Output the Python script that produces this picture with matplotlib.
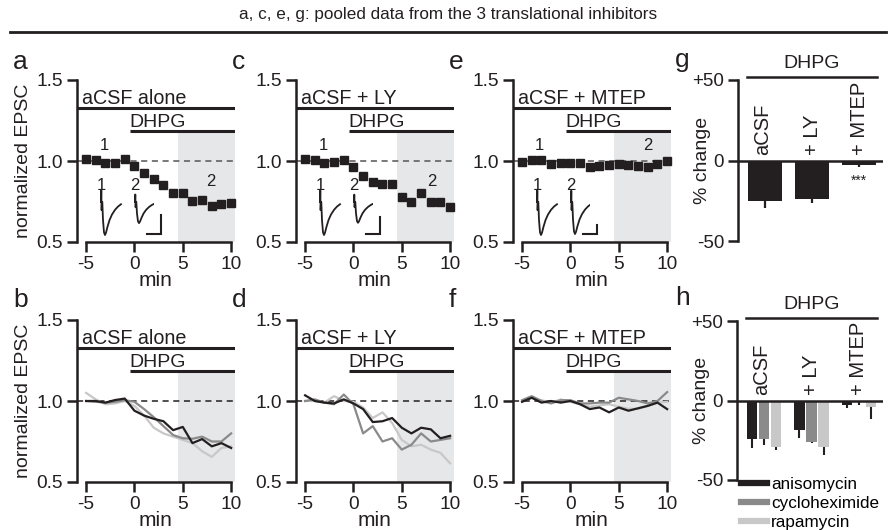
import matplotlib
matplotlib.use('Agg')
import matplotlib.pyplot as plt
from matplotlib.lines import Line2D

plt.rcParams['font.family'] = ['Liberation Sans', 'DejaVu Sans']
plt.rcParams['axes.unicode_minus'] = False

# ---------------- data ----------------
minutes = [-5, -4, -3, -2, -1, 0, 1, 2, 3, 4, 5, 6, 7, 8, 9, 10]

pooled_acsf = [1.014, 1.004, 0.99, 0.99, 1.01, 0.967, 0.924, 0.89, 0.85, 0.80,
               0.80, 0.753, 0.757, 0.724, 0.737, 0.74]
pooled_acsf_err = [0.012, 0.010, 0.010, 0.012, 0.012, 0.015, 0.018, 0.018, 0.02, 0.02,
                   0.02, 0.022, 0.022, 0.02, 0.02, 0.02]
pooled_ly = [1.014, 1.004, 0.99, 0.994, 1.008, 0.96, 0.907, 0.87, 0.86, 0.856,
             0.78, 0.747, 0.80, 0.747, 0.747, 0.716]
pooled_ly_err = [0.012, 0.010, 0.012, 0.012, 0.012, 0.018, 0.02, 0.02, 0.025, 0.025,
                 0.02, 0.025, 0.025, 0.02, 0.02, 0.025]
pooled_mtep = [0.994, 1.004, 1.008, 0.984, 0.99, 0.99, 0.99, 0.963, 0.97, 0.973,
               0.984, 0.973, 0.97, 0.963, 0.984, 1.0]
pooled_mtep_err = [0.01, 0.01, 0.01, 0.01, 0.01, 0.01, 0.012, 0.015, 0.015, 0.015,
                   0.015, 0.015, 0.015, 0.015, 0.015, 0.015]

b_aniso = [1.0, 1.0, 0.99, 1.006, 1.015, 0.94, 0.91, 0.89, 0.875, 0.82,
           0.84, 0.74, 0.765, 0.72, 0.74, 0.71]
b_cyclo = [1.0, 0.995, 0.99, 0.995, 1.005, 0.995, 0.95, 0.90, 0.845, 0.79,
           0.77, 0.767, 0.78, 0.75, 0.75, 0.80]
b_rapa = [1.05, 1.01, 0.98, 0.985, 1.0, 0.97, 0.91, 0.835, 0.80, 0.78,
          0.76, 0.74, 0.69, 0.655, 0.71, 0.72]

d_aniso = [1.035, 1.0, 0.99, 0.985, 1.01, 0.985, 0.95, 0.87, 0.875, 0.895,
           0.835, 0.80, 0.835, 0.825, 0.77, 0.785]
d_cyclo = [1.0, 1.01, 0.99, 0.98, 1.04, 0.98, 0.80, 0.845, 0.75, 0.77,
           0.70, 0.73, 0.80, 0.75, 0.76, 0.77]
d_rapa = [1.0, 1.0, 0.99, 1.03, 1.0, 0.995, 0.96, 0.895, 0.93, 0.865,
          0.76, 0.72, 0.73, 0.70, 0.68, 0.615]

f_aniso = [0.995, 1.02, 0.99, 1.0, 0.99, 1.0, 0.98, 0.95, 0.96, 0.93,
           0.96, 0.94, 0.955, 0.97, 0.99, 0.95]
f_cyclo = [1.005, 1.03, 1.0, 0.985, 1.005, 1.005, 0.985, 0.985, 0.99, 0.99,
           1.02, 1.01, 1.0, 0.985, 1.0, 1.055]
f_rapa = [1.0, 1.02, 1.005, 0.99, 1.01, 0.995, 0.98, 0.965, 0.973, 0.98,
          0.965, 0.952, 0.952, 0.97, 0.99, 0.995]

conditions = ['aCSF', '+ LY', '+ MTEP']
pooled_change = [-25.0, -24.0, -2.7]
pooled_change_err = [4.2, 2.3, 1.5]

drugs = ['anisomycin', 'cycloheximide', 'rapamycin']
aniso_change = [-24.0, -18.7, -2.6]
aniso_err = [5.8, 4.7, 2.3]
cyclo_change = [-24.0, -26.0, -1.1]
cyclo_err = [3.7, 0.6, 1.5]
rapa_change = [-29.4, -29.4, -4.3]
rapa_err = [1.9, 5.1, 7.4]

# example EPSC trace (normalized current, time in ms)
trace_t = [0, 0.3, 0.6, 1.0, 1.3, 2.0, 3.0, 4.0, 5.0, 6.5, 8.5, 11, 14, 17, 20]
trace_i = [0, 0.35, -0.25, 0.0, 0.0, -0.55, -0.92, -1.0, -0.93, -0.75, -0.55,
           -0.38, -0.24, -0.14, -0.07]
trace2_amp = {'a': 0.64, 'c': 0.63, 'e': 0.97}
scale_h = {'a': 0.58, 'c': 0.50, 'e': 0.28}

# ---------------- style ----------------
BLACK = '#231f20'
GRAY = '#8a8a8a'
LIGHT = '#c8c8c8'
SHADE = '#e6e7e8'
W, H = 896, 530
XL = (-5.94, 10.4)

fig = plt.figure(figsize=(W / 100, H / 100), dpi=100)


def box(x0, y0, x1, y1):
    return [x0 / W, 1 - y1 / H, (x1 - x0) / W, (y1 - y0) / H]


def style_axes(ax):
    for s in ['top', 'right']:
        ax.spines[s].set_visible(False)
    for s in ['left', 'bottom']:
        ax.spines[s].set_linewidth(1.8)
        ax.spines[s].set_color(BLACK)
    ax.tick_params(direction='out', length=7, width=1.8, labelsize=13.8,
                   pad=3, color=BLACK, labelcolor=BLACK)


def timecourse(ax, title, ylabel):
    ax.set_xlim(*XL)
    ax.set_ylim(0.5, 1.5)
    style_axes(ax)
    ax.spines['left'].set_bounds(0.5, 1.5)
    ax.spines['bottom'].set_bounds(-5, 10)
    ax.set_xticks([-5, 0, 5, 10])
    ax.set_xticklabels(['-5', '0', '5', '10'])
    ax.set_yticks([0.5, 1.0, 1.5])
    ax.set_yticklabels(['0.5', '1.0', '1.5'])
    ax.axvspan(4.5, XL[1], ymin=0, ymax=0.67, color=SHADE, lw=0, zorder=0)
    ax.axhline(1.327, color=BLACK, lw=2.2)
    ax.plot([-0.5, XL[1]], [1.185, 1.185], color=BLACK, lw=2.2, solid_capstyle='butt')
    ax.text(-5.45, 1.352, title, fontsize=14.2, ha='left', va='baseline', color=BLACK)
    ax.text(-0.55, 1.208, 'DHPG', fontsize=14, ha='left', va='baseline', color=BLACK)
    ax.text((2.2 - XL[0]) / (XL[1] - XL[0]), -0.235, 'min', fontsize=15,
            ha='center', va='center', transform=ax.transAxes, color=BLACK)
    if ylabel:
        ax.set_ylabel('normalized EPSC', fontsize=14, labelpad=3, color=BLACK)


def inset_traces(ax_parent_left, top_y, key):
    ins = fig.add_axes(box(ax_parent_left + 11, top_y + 110, ax_parent_left + 77, top_y + 158))
    ins.set_xlim(0, 66)
    ins.set_ylim(-1.09, 0.36)
    ins.axis('off')
    ins.plot([t + 13 for t in trace_t], trace_i, color=BLACK, lw=1.3)
    ins.plot([t + 47 for t in trace_t], [v * trace2_amp[key] for v in trace_i],
             color=BLACK, lw=1.3)
    ins.text(13, 0.27, '1', fontsize=12, ha='center', va='bottom', color=BLACK)
    ins.text(47, 0.27, '2', fontsize=12, ha='center', va='bottom', color=BLACK)
    yb = -0.97
    ins.plot([59, 73, 73], [yb, yb, yb + scale_h[key]], color=BLACK, lw=1.5,
             clip_on=False, solid_joinstyle='miter')


# ---------------- top row ----------------
top_specs = [('a', 77, 'aCSF alone', pooled_acsf, pooled_acsf_err, True, (-3.1, 1.05), (7.9, 0.83)),
             ('c', 296, 'aCSF + LY', pooled_ly, pooled_ly_err, False, (-3.1, 1.05), (8.1, 0.83)),
             ('e', 513, 'aCSF + MTEP', pooled_mtep, pooled_mtep_err, False, (-3.2, 1.05), (8.0, 1.05))]
for key, left, title, vals, errs, ylab, p1, p2 in top_specs:
    ax = fig.add_axes(box(left, 80, left + 158, 242))
    timecourse(ax, title, ylab)
    ax.hlines(1.0, -5.9, XL[1], colors='#555555', linestyles=(0, (4, 3)), lw=1.1, zorder=1)
    ax.errorbar(minutes, vals, yerr=errs, fmt='s', ms=6.2, color=BLACK, ecolor=BLACK,
                elinewidth=1.5, capsize=0, zorder=3, clip_on=False)
    ax.text(p1[0], p1[1], '1', fontsize=12, ha='center', va='bottom', color=BLACK)
    ax.text(p2[0], p2[1], '2', fontsize=12, ha='center', va='bottom', color=BLACK)
    inset_traces(left, 80, key)
    fig.text((left - 64) / W, 1 - 62 / H, key, fontsize=19, ha='left', va='center', color=BLACK)

# ---------------- bottom row ----------------
bot_specs = [('b', 77, 'aCSF alone', (b_aniso, b_cyclo, b_rapa), True),
             ('d', 296, 'aCSF + LY', (d_aniso, d_cyclo, d_rapa), False),
             ('f', 513, 'aCSF + MTEP', (f_aniso, f_cyclo, f_rapa), False)]
for key, left, title, series, ylab in bot_specs:
    ax = fig.add_axes(box(left, 320, left + 158, 482))
    timecourse(ax, title, ylab)
    ax.hlines(1.0, -5.9, XL[1], colors=BLACK, linestyles=(0, (4, 3)), lw=1.1, zorder=1)
    for vals, col, z in zip(series, (BLACK, GRAY, LIGHT), (4, 3, 2)):
        ax.plot(minutes, vals, color=col, lw=1.6, zorder=z)
    fig.text((left - 64) / W, 1 - 300 / H, key, fontsize=19, ha='left', va='center', color=BLACK)


# ---------------- bar panels ----------------
def bar_axes(ax, width_px):
    ax.set_xlim(-0.574, 2.51)
    ax.set_ylim(-50, 50)
    style_axes(ax)
    ax.spines['bottom'].set_visible(False)
    ax.set_xticks([])
    ax.set_yticks([50, 0, -50])
    ax.set_yticklabels(['+50', '0', '-50'])
    ax.tick_params(axis='y', length=7, labelsize=13.5)
    ax.axhline(0, color=BLACK, lw=1.8, zorder=5)
    ax.set_ylabel('% change', fontsize=14, color=BLACK)
    ax.yaxis.set_label_coords(-27 / width_px, 0.5)
    ax.plot([-0.38, 2.38], [52, 52], color=BLACK, lw=1.8, clip_on=False)
    ax.text(1, 55, 'DHPG', fontsize=14, ha='center', va='bottom', color=BLACK)
    for i, c in enumerate(conditions):
        ax.text(i - 0.05 if i == 0 else i, 3.5, c, rotation=90, fontsize=14.5,
                ha='center', va='bottom', color=BLACK)


axg = fig.add_axes(box(738, 80, 883, 241))
bar_axes(axg, 145)
xpos = list(range(len(conditions)))
axg.bar(xpos, pooled_change, width=0.72, color=BLACK, zorder=3)
axg.errorbar(xpos, pooled_change, yerr=[pooled_change_err, [0] * 3], fmt='none',
             ecolor=BLACK, elinewidth=1.6, capsize=0, zorder=2)
axg.text(2, -8, '***', fontsize=10, ha='center', va='top', color=BLACK)
fig.text(675 / W, 1 - 60 / H, 'g', fontsize=19, ha='left', va='center', color=BLACK)

axh = fig.add_axes(box(737, 321, 883, 480))
bar_axes(axh, 146)
offs = [-0.255, 0.0, 0.255]
for vals, errs, col, off, name in zip((aniso_change, cyclo_change, rapa_change),
                                      (aniso_err, cyclo_err, rapa_err),
                                      (BLACK, GRAY, LIGHT), offs, drugs):
    xs = [x + off for x in xpos]
    axh.bar(xs, vals, width=0.22, color=col, zorder=3, label=name)
    axh.errorbar(xs, vals, yerr=[errs, [0] * 3], fmt='none', ecolor=BLACK,
                 elinewidth=1.5, capsize=0, zorder=2)
fig.text(675 / W, 1 - 298 / H, 'h', fontsize=19, ha='left', va='center', color=BLACK)

handles = [Line2D([0], [0], color=c, lw=4.5) for c in (BLACK, GRAY, LIGHT)]
fig.legend(handles, drugs, loc='upper left', bbox_to_anchor=(741 / W, 1 - 477 / H),
           frameon=False, fontsize=12.3, handlelength=1.55, handletextpad=0.2,
           labelspacing=0.22, borderpad=0, borderaxespad=0)

# ---------------- title ----------------
fig.text(0.5, 1 - 15 / H, 'a, c, e, g: pooled data from the 3 translational inhibitors',
         fontsize=12.3, ha='center', va='center', color=BLACK)
fig.add_artist(Line2D([10 / W, 886 / W], [1 - 32 / H, 1 - 32 / H], color=BLACK, lw=2))

fig.savefig('out.png', dpi=100)
